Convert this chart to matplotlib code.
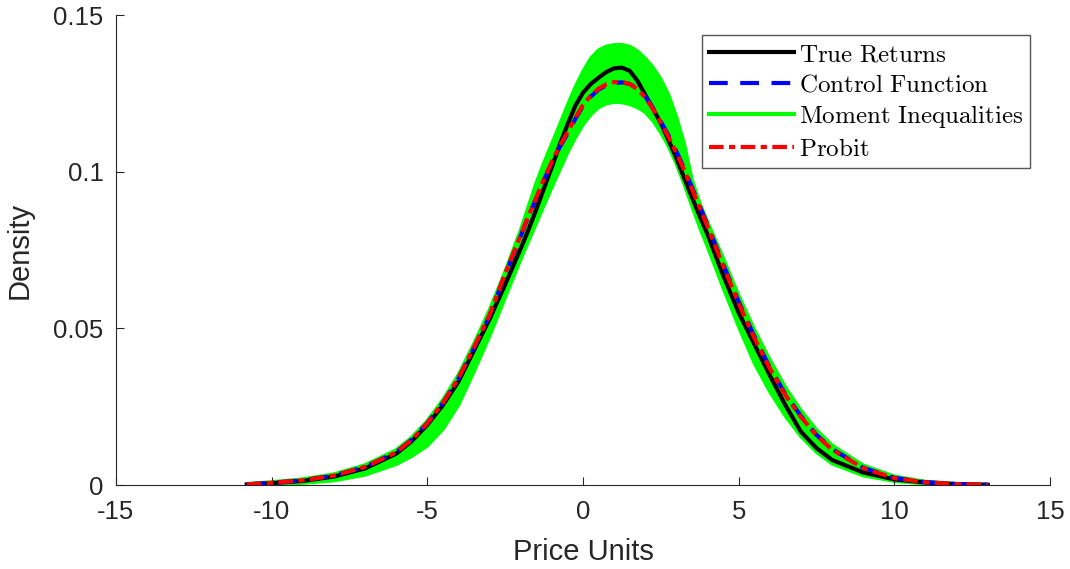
import matplotlib
matplotlib.use("Agg")
import matplotlib.pyplot as plt

plt.rcParams['font.family'] = ['Liberation Sans', 'DejaVu Sans']
plt.rcParams['mathtext.fontset'] = 'cm'
plt.rcParams['axes.unicode_minus'] = False

x = [-10.8, -10, -9, -8, -7, -6, -5.5, -5, -4.5, -4, -3.5, -3, -2.5,
     -2, -1.75, -1.5, -1.25, -1, -0.75, -0.5, -0.25, 0, 0.25, 0.5, 0.75, 1, 1.25, 1.5, 1.75,
     2, 2.25, 2.5, 2.75, 3, 3.25, 3.5, 3.75, 4,
     4.5, 5, 5.5, 6, 6.5, 7, 7.5, 8, 9, 10, 11, 12, 13]

true_returns = [0.0002, 0.0006, 0.0013, 0.0027, 0.0053, 0.0100, 0.0140, 0.0192, 0.0255, 0.0330,
                0.0430, 0.0530, 0.0640,
                0.0755, 0.0815, 0.0880, 0.0948, 0.1015, 0.1085, 0.1150, 0.1210, 0.1252, 0.1280,
                0.1300, 0.1318, 0.1330, 0.1332, 0.1322, 0.1290,
                0.1245, 0.1200, 0.1155, 0.1100, 0.1043, 0.0980, 0.0918, 0.0858, 0.0800,
                0.0670, 0.0550, 0.0450, 0.0350, 0.0255, 0.0170, 0.0118, 0.0080, 0.0040, 0.0018,
                0.0008, 0.0003, 0.0001]

control_function = [0.0002, 0.0007, 0.0015, 0.0030, 0.0058, 0.0105, 0.0145, 0.0198, 0.0262, 0.0340,
                    0.0438, 0.0540, 0.0672,
                    0.0795, 0.0858, 0.0915, 0.0975, 0.1028, 0.1078, 0.1120, 0.1168, 0.1210, 0.1240,
                    0.1262, 0.1276, 0.1283, 0.1285, 0.1280, 0.1265,
                    0.1240, 0.1203, 0.1160, 0.1115, 0.1065, 0.1010, 0.0950, 0.0890, 0.0830,
                    0.0705, 0.0585, 0.0475, 0.0375, 0.0290, 0.0220, 0.0160, 0.0115, 0.0055, 0.0023,
                    0.0009, 0.0003, 0.0001]

probit = [0.0002, 0.0007, 0.0015, 0.0030, 0.0058, 0.0104, 0.0144, 0.0197, 0.0262, 0.0341,
          0.0440, 0.0543, 0.0675,
          0.0798, 0.0860, 0.0918, 0.0978, 0.1032, 0.1082, 0.1125, 0.1172, 0.1213, 0.1243,
          0.1265, 0.1279, 0.1286, 0.1286, 0.1280, 0.1263,
          0.1237, 0.1200, 0.1156, 0.1110, 0.1060, 0.1005, 0.0945, 0.0885, 0.0825,
          0.0700, 0.0580, 0.0470, 0.0372, 0.0287, 0.0217, 0.0158, 0.0113, 0.0054, 0.0022,
          0.0009, 0.0003, 0.0001]

moment_upper = [0.0004, 0.0010, 0.0019, 0.0035, 0.0064, 0.0112, 0.0152, 0.0205, 0.0272, 0.0352,
                0.0452, 0.0560, 0.0682,
                0.0815, 0.0890, 0.0965, 0.1030, 0.1090, 0.1150, 0.1212, 0.1270, 0.1320, 0.1362,
                0.1388, 0.1400, 0.1405, 0.1405, 0.1400, 0.1385,
                0.1362, 0.1333, 0.1295, 0.1245, 0.1175, 0.1090, 0.0975, 0.0900, 0.0840,
                0.0725, 0.0605, 0.0497, 0.0400, 0.0312, 0.0238, 0.0176, 0.0127, 0.0063, 0.0028,
                0.0011, 0.0004, 0.0001]

moment_lower = [0.0000, 0.0002, 0.0006, 0.0014, 0.0032, 0.0066, 0.0092, 0.0125, 0.0178, 0.0255,
                0.0362, 0.0475, 0.0598,
                0.0720, 0.0778, 0.0835, 0.0893, 0.0950, 0.1005, 0.1060, 0.1108, 0.1150, 0.1182,
                0.1205, 0.1217, 0.1222, 0.1221, 0.1215, 0.1205,
                0.1190, 0.1162, 0.1125, 0.1080, 0.1025, 0.0960, 0.0890, 0.0822, 0.0760,
                0.0630, 0.0505, 0.0390, 0.0298, 0.0220, 0.0155, 0.0105, 0.0068, 0.0030, 0.0012,
                0.0004, 0.0001, 0.0000]

xticks = [-15, -10, -5, 0, 5, 10, 15]
xticklabels = ['-15', '-10', '-5', '0', '5', '10', '15']
yticks = [0, 0.05, 0.1, 0.15]
yticklabels = ['0', '0.05', '0.1', '0.15']

fig = plt.figure(figsize=(10.70, 5.69), dpi=100)
ax = fig.add_axes([0.1084, 0.1476, 0.8729, 0.826])

green = '#00ff00'
ax.fill_between(x, moment_lower, moment_upper, color=green, lw=0, zorder=1)
ax.plot(x, moment_upper, color=green, lw=2.5, zorder=1, solid_capstyle='butt')
ax.plot(x, moment_lower, color=green, lw=2.5, zorder=1, solid_capstyle='butt')

l_true, = ax.plot(x, true_returns, color='black', lw=3.0, zorder=3)
l_cf, = ax.plot(x, control_function, color='#0000ff', lw=3.0, dashes=(4.5, 3), zorder=4)
l_mi, = ax.plot([], [], color=green, lw=3.0)
l_pr, = ax.plot(x, probit, color='#ff0000', lw=3.0, dashes=(3.5, 1.3, 1.5, 1.3), zorder=5)

ax.set_xlim(-15, 15)
ax.set_ylim(0, 0.15)
ax.set_xticks(xticks)
ax.set_xticklabels(xticklabels)
ax.set_yticks(yticks)
ax.set_yticklabels(yticklabels)

for s in ['top', 'right']:
    ax.spines[s].set_visible(False)
for s in ['left', 'bottom']:
    ax.spines[s].set_color('#262626')
    ax.spines[s].set_linewidth(0.8)
ax.tick_params(direction='in', length=6, width=0.8, colors='#262626', labelsize=18.5)
ax.tick_params(axis='x', pad=11)
ax.tick_params(axis='y', pad=9)

ax.set_xlabel('Price Units', fontsize=21, color='#262626', labelpad=10)
ax.set_ylabel('Density', fontsize=21, color='#262626', labelpad=14)

leg = ax.legend([l_true, l_cf, l_mi, l_pr],
                [r'$\mathrm{True\ Returns}$', r'$\mathrm{Control\ Function}$',
                 r'$\mathrm{Moment\ Inequalities}$', r'$\mathrm{Probit}$'],
                loc='upper right', bbox_to_anchor=(0.9786, 0.957), borderaxespad=0,
                fontsize=18, fancybox=False, framealpha=1, edgecolor='#555555',
                handlelength=3.4, handletextpad=0.2, labelspacing=0.26, borderpad=0.28)
leg.get_frame().set_linewidth(1.0)

fig.savefig('out.png', dpi=100)
